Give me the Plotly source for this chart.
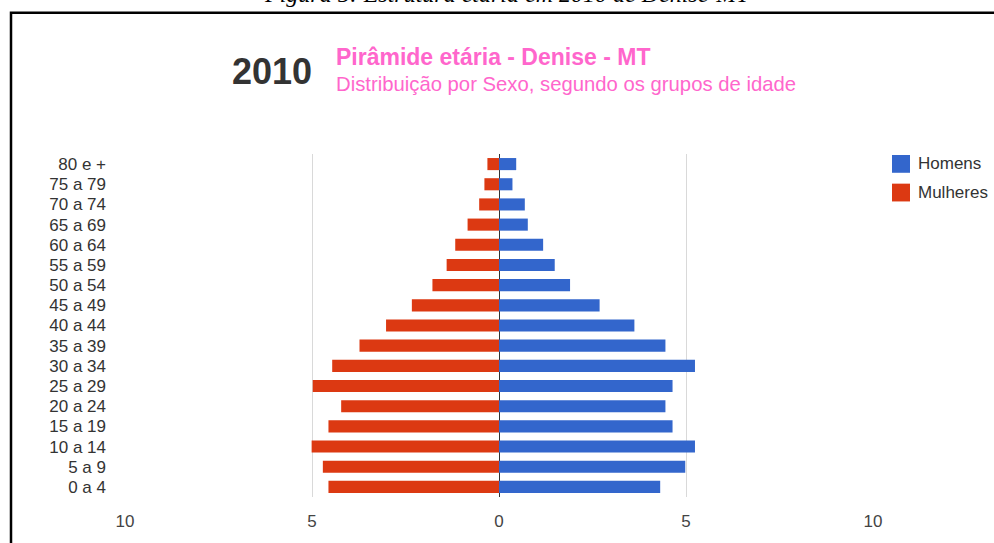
import plotly.graph_objects as go

# ---- data ----
age_groups = ["0 a 4", "5 a 9", "10 a 14", "15 a 19", "20 a 24", "25 a 29", "30 a 34",
              "35 a 39", "40 a 44", "45 a 49", "50 a 54", "55 a 59", "60 a 64",
              "65 a 69", "70 a 74", "75 a 79", "80 e +"]
homens = [4.31, 4.98, 5.24, 4.64, 4.45, 4.64, 5.24, 4.45, 3.62, 2.69, 1.90, 1.49, 1.18,
          0.77, 0.69, 0.36, 0.46]
mulheres = [4.56, 4.71, 5.01, 4.56, 4.22, 4.98, 4.46, 3.73, 3.02, 2.33, 1.78, 1.40, 1.17,
            0.84, 0.53, 0.39, 0.31]
series_names = ["Homens", "Mulheres"]
x_tickvals = [-10, -5, 0, 5, 10]
x_ticktext = ["10", "5", "0", "5", "10"]

BLUE = "#3366cc"
RED = "#dc3912"
PINK = "#ff66cc"

W, H = 994, 543
L, R, T, B = 125, 121, 154, 42
PW, PH = W - L - R, H - T - B


def xp(px):
    return (px - L) / PW


def yp(py):
    return (H - B - py) / PH


fig = go.Figure()
fig.add_trace(go.Bar(y=age_groups, x=homens, orientation="h", name=series_names[0],
                     marker=dict(color=BLUE, line=dict(width=0)), showlegend=False))
fig.add_trace(go.Bar(y=age_groups, x=[-v for v in mulheres], orientation="h",
                     name=series_names[1], marker=dict(color=RED, line=dict(width=0)),
                     showlegend=False))

font_family = "Liberation Sans, Arial, sans-serif"

fig.update_layout(
    width=W, height=H,
    margin=dict(l=L, r=R, t=T, b=B, pad=0),
    paper_bgcolor="white", plot_bgcolor="white",
    barmode="relative", bargap=0.4,
    font=dict(family=font_family, color="#444", size=17),
    xaxis=dict(range=[-10, 10], tickvals=x_tickvals, ticktext=x_ticktext,
               showgrid=True, gridcolor="#d9d9d9", gridwidth=1,
               zeroline=True, zerolinecolor="#333", zerolinewidth=1,
               showline=False, ticks="", ticklabelstandoff=12,
               tickfont=dict(size=17, color="#444")),
    yaxis=dict(categoryorder="array", categoryarray=age_groups, showgrid=False,
               showline=False, ticks="", ticklabelstandoff=18,
               tickfont=dict(size=17, color="#333"), range=[-0.5, len(age_groups) - 0.5]),
)

# frame around the figure
fig.add_shape(type="rect", xref="paper", yref="paper",
              x0=xp(11), x1=xp(1010), y0=yp(560), y1=yp(11),
              line=dict(color="black", width=2.5), fillcolor="rgba(0,0,0,0)", layer="above")

annotations = [
    dict(text="<i>Figura 5: Estrutura etária em 2010 de Denise-MT</i>", x=xp(507), y=yp(7),
         font=dict(family="Liberation Serif, Times New Roman, serif", size=24, color="black"),
         xanchor="center", yanchor="bottom"),
    dict(text="<b>2010</b>", x=xp(314), y=yp(71), xanchor="right", yanchor="middle",
         font=dict(size=36, color="#333", family=font_family)),
    dict(text="<b>Pirâmide etária - Denise - MT</b>", x=xp(334), y=yp(56),
         xanchor="left", yanchor="middle",
         font=dict(size=23, color=PINK, family=font_family)),
    dict(text="Distribuição por Sexo, segundo os grupos de idade", x=xp(334), y=yp(83),
         xanchor="left", yanchor="middle",
         font=dict(size=20.3, color=PINK, family=font_family)),
]

# legend (custom, to match square size)
leg_colors = [BLUE, RED]
for i, (nm, col) in enumerate(zip(series_names, leg_colors)):
    top = 155 + i * 29
    fig.add_shape(type="rect", xref="paper", yref="paper",
                  x0=xp(892), x1=xp(910), y0=yp(top + 18), y1=yp(top),
                  line=dict(width=0), fillcolor=col)
    annotations.append(dict(text=nm, x=xp(916), y=yp(top + 9), xanchor="left",
                            yanchor="middle",
                            font=dict(size=17, color="#333", family=font_family)))

for a in annotations:
    a.update(xref="paper", yref="paper", showarrow=False)

fig.update_layout(annotations=annotations)

fig.write_html("out.html", config={"displayModeBar": False},
               post_script="document.body.style.margin='0';document.body.style.overflow='hidden';")
